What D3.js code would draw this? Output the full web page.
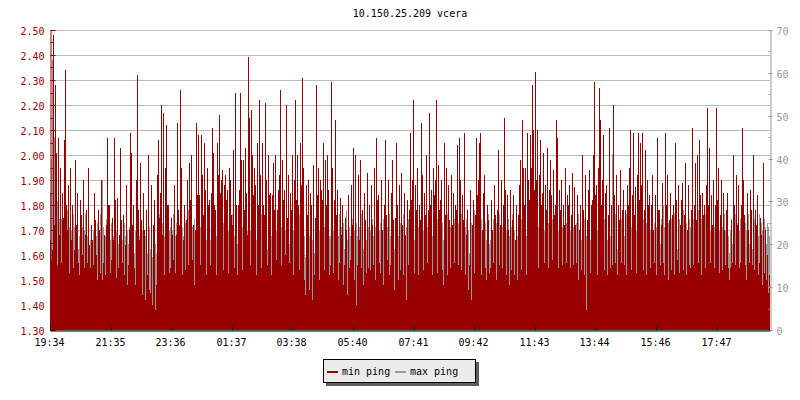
<!DOCTYPE html>
<html><head><meta charset="utf-8">
<script src="https://cdn.jsdelivr.net/npm/d3@7"></script>
<style>
body{margin:0;background:#fff}
svg{display:block}
text{font-family:"DejaVu Sans Mono",monospace;font-size:10px}
</style>
</head><body>
<svg id="chart" width="800" height="400"></svg>
<script>
const chartTitle = "10.150.25.209 vcera";
const stepMinutes = 2;            // one sample every 2 minutes, 24 h span
const spanMinutes = 1440;
const seriesNames = ["min ping", "max ping"];

// min ping (left axis), one value per 2-minute step
const minPing = [
1.66,1.58,1.62,2.48,1.72,2.28,2.01,1.56,2.07,1.68,1.95,1.57,1.85,1.75,2.06,2.34,1.80,1.70,1.88,1.53,1.95,1.66,1.80,1.55,1.62,1.98,1.72,1.85,1.57,1.52,1.82,1.76,1.60,1.90,1.55,1.68,1.78,1.57,1.95,1.64,
1.55,1.72,1.66,1.56,1.85,1.74,1.60,1.50,1.78,1.70,1.53,1.90,1.50,1.57,1.68,1.52,1.72,2.07,1.80,1.80,1.53,1.58,1.75,1.66,2.07,1.82,1.51,1.83,1.55,1.68,2.03,1.74,1.57,1.76,1.52,1.64,1.88,1.48,1.56,1.70,
2.09,2.01,1.72,1.80,1.55,1.48,1.90,2.32,1.78,1.66,1.97,1.74,1.44,1.85,1.70,1.42,1.78,1.52,2.00,1.46,1.45,1.88,1.40,1.72,1.82,1.38,1.48,1.92,2.06,1.75,1.85,2.20,1.68,2.17,1.52,1.95,2.12,1.80,1.80,1.53,
1.55,1.75,1.68,1.58,1.88,1.53,1.68,2.13,1.78,1.72,2.26,1.95,1.52,1.66,1.80,1.54,1.74,1.90,1.56,1.97,1.82,2.00,1.58,1.72,1.48,1.70,2.13,1.84,2.08,1.84,1.56,2.08,1.92,1.76,2.05,1.86,1.52,1.95,1.80,1.82,
1.56,1.85,2.11,2.01,1.80,1.78,1.52,2.05,1.92,2.16,1.85,1.90,1.94,1.54,1.88,1.92,1.82,1.86,1.53,1.95,1.90,1.76,1.72,2.02,1.55,2.25,1.80,1.52,1.80,1.86,2.25,1.98,1.54,1.98,1.78,2.03,1.85,1.68,2.39,2.15,
1.56,2.18,2.00,1.84,1.95,1.88,1.52,2.05,1.80,2.22,1.92,1.55,2.05,1.80,1.76,2.21,1.90,1.56,2.00,1.84,1.85,1.52,1.84,1.97,1.78,2.00,1.58,1.78,1.86,1.92,2.26,1.56,1.98,1.82,1.86,1.60,2.20,1.75,1.92,1.57,
1.85,1.78,2.00,1.52,1.90,2.22,1.82,2.00,1.80,1.54,2.05,1.88,2.31,1.95,1.50,1.44,1.88,1.76,1.90,1.46,1.85,1.80,1.42,1.96,1.52,1.75,2.28,1.84,1.95,1.50,1.90,1.86,1.82,2.05,1.54,1.98,1.80,2.00,1.86,1.52,
1.56,2.29,1.95,1.53,1.82,2.14,1.76,1.86,1.50,1.57,1.83,1.68,1.80,1.48,1.56,1.75,1.70,1.44,1.84,1.55,1.58,1.88,1.72,2.03,1.50,2.00,1.40,1.56,1.92,1.66,1.98,1.55,1.78,1.48,1.85,1.74,1.53,1.93,1.55,1.80,
1.54,1.88,1.72,1.56,1.95,1.50,2.07,1.82,1.84,1.57,1.53,1.90,1.70,1.48,1.80,2.06,1.76,1.58,1.90,1.52,1.56,1.85,1.98,1.74,1.46,1.75,2.05,1.80,1.50,1.88,1.54,1.93,1.72,1.52,1.85,1.68,1.42,1.82,1.56,1.78,
2.09,1.82,1.90,2.22,1.53,1.88,1.78,1.95,1.52,1.80,1.74,2.13,1.92,1.54,1.85,1.76,2.00,1.57,1.78,2.17,1.80,1.86,1.52,1.95,1.84,1.90,2.22,1.53,1.96,1.78,1.82,1.90,1.54,1.48,2.05,1.76,1.95,1.52,1.88,1.74,
1.55,1.92,1.72,1.85,1.57,1.80,1.78,2.04,1.56,2.07,1.90,1.54,1.84,1.74,2.09,1.52,1.68,1.78,1.46,1.56,1.86,1.42,1.72,1.82,1.53,1.76,2.07,1.84,1.90,2.05,2.09,1.52,1.70,1.85,1.92,1.55,1.50,1.80,1.74,1.53,
1.55,1.82,1.70,1.57,1.88,1.76,1.50,1.78,2.02,1.56,1.72,1.90,1.55,1.80,2.15,1.86,1.52,1.84,1.70,1.48,1.86,1.54,1.74,1.84,1.52,1.66,1.80,1.50,1.76,1.88,1.98,1.54,2.14,1.95,1.80,1.95,1.52,2.09,1.90,1.82,
2.08,1.95,2.28,2.10,1.86,2.33,1.90,2.10,1.55,1.92,2.06,1.80,1.85,2.01,1.57,1.88,1.78,2.03,1.55,1.86,1.98,1.84,1.58,1.94,1.76,1.80,2.14,2.07,1.55,1.86,1.78,1.90,1.56,1.80,1.72,1.95,1.57,1.84,1.80,1.88,
1.55,1.76,1.93,1.56,1.87,1.72,1.57,1.84,1.50,1.70,1.80,1.54,2.00,1.78,1.52,1.92,1.38,1.74,1.86,1.94,1.53,1.80,1.82,2.00,2.29,1.84,1.88,1.52,1.95,2.27,2.14,1.80,1.90,2.08,1.54,1.85,1.88,1.52,1.76,2.11,
1.55,1.80,1.56,2.20,1.84,1.57,1.92,1.52,1.80,1.74,1.94,1.57,1.78,1.86,1.56,1.78,1.52,1.88,1.80,1.95,2.10,1.54,1.84,2.09,1.76,1.87,1.53,1.92,2.09,1.82,2.05,1.88,2.09,1.54,1.78,2.02,1.52,1.90,1.80,1.84,
1.55,1.80,1.92,1.70,1.57,1.84,1.52,2.07,1.78,1.78,1.56,1.72,1.89,1.57,1.52,2.09,1.80,1.92,1.50,1.74,1.85,1.54,1.76,1.80,1.52,2.05,1.82,1.58,1.88,1.53,1.72,1.82,1.89,1.54,1.76,1.97,1.52,1.70,1.88,1.56,
1.55,1.78,2.11,1.56,1.80,1.97,1.74,2.00,1.57,2.06,1.84,1.52,1.85,1.76,1.80,1.55,1.88,2.19,1.80,2.03,1.57,1.84,1.72,1.90,1.55,1.80,2.19,1.82,1.95,1.53,1.76,1.90,1.54,1.85,1.70,1.56,1.78,1.85,1.55,1.50,
1.55,1.74,1.57,2.00,1.80,1.56,1.92,1.72,1.88,1.55,1.57,1.80,2.11,1.90,1.76,1.56,1.50,1.85,1.70,1.57,1.86,1.78,1.56,2.00,1.54,1.78,1.72,1.84,1.52,1.57,1.75,1.68,1.48,1.97,1.53,1.70,1.50,1.60,1.45,1.52
];

// max ping (right axis), one value per 2-minute step
const maxPing = [
32,40,63,50,45,38,30,30,27,26,28,26,29,24,27,26,25,28,22,24,26,23,21,27,24,20,23,25,19,22,26,21,24,18,23,27,20,22,25,19,
21,24,19,23,26,20,22,25,18,23,27,21,35,24,19,22,26,20,23,17,21,25,19,22,24,18,23,26,20,22,16,24,21,19,25,22,18,23,20,24,
22,26,20,24,18,23,21,25,19,22,27,17,23,20,16,22,25,18,21,24,19,23,17,21,26,20,18,24,22,27,20,23,25,19,22,26,21,24,18,23,
24,20,23,27,19,22,25,18,23,21,26,19,24,22,17,25,21,23,28,20,22,18,24,21,26,23,19,25,22,20,24,18,22,26,20,23,21,25,19,22,
21,25,19,23,26,20,22,17,24,21,28,19,23,25,18,22,26,20,23,17,21,24,27,19,22,18,25,20,23,26,19,22,24,18,21,25,20,23,19,22,
23,20,25,22,18,24,21,26,19,23,22,27,20,24,17,21,25,19,23,26,20,22,24,18,21,25,23,19,27,22,20,24,18,26,21,23,19,25,22,20,
21,25,19,23,26,20,22,18,24,27,21,23,19,25,22,17,24,20,26,22,19,23,21,25,18,22,24,27,20,23,19,25,22,18,24,21,26,20,23,22,
22,19,25,23,20,26,24,18,22,27,20,24,21,25,19,23,28,21,18,24,22,20,26,19,23,21,25,22,18,24,20,27,23,19,25,22,21,18,24,26,
23,20,26,22,19,24,21,27,18,23,25,20,22,26,19,23,21,24,18,27,22,20,25,23,19,26,21,24,22,18,25,20,23,27,21,19,24,22,26,20,
22,26,19,23,21,25,28,20,24,18,22,26,20,23,19,25,21,24,27,20,23,18,22,25,21,19,24,26,20,23,22,18,25,21,24,19,23,27,20,22,
24,20,23,19,26,22,21,18,25,20,23,27,19,22,20,24,26,21,23,18,22,25,20,23,28,21,19,24,22,20,23,26,19,22,18,25,21,23,27,20,
21,24,19,26,22,20,25,23,18,27,22,20,24,21,19,25,23,18,26,22,20,24,27,21,23,19,25,22,24,20,18,26,21,23,25,19,22,24,20,26,
22,19,25,21,27,20,23,18,24,22,26,21,19,24,23,20,28,22,25,19,23,21,26,18,24,22,20,25,23,19,26,21,24,28,22,20,25,23,18,24,
23,26,20,24,18,22,25,21,27,19,23,21,18,24,26,20,22,25,19,23,21,26,22,19,24,20,27,23,21,18,25,22,20,24,26,19,23,21,25,22,
22,26,41,24,20,27,22,19,25,23,21,26,18,24,22,20,27,23,19,25,21,24,22,18,26,20,23,25,19,22,24,21,18,26,23,20,25,22,19,24,
23,20,26,22,25,19,24,21,27,23,20,26,22,29,24,21,28,19,25,23,21,26,24,20,27,22,25,19,23,26,21,24,20,28,22,19,25,23,21,26,
24,21,19,26,23,20,25,22,28,21,24,26,20,23,19,27,22,21,25,20,23,26,21,19,24,28,22,25,20,23,26,21,24,19,27,23,21,25,22,18,
23,26,20,24,22,27,19,25,21,23,26,20,22,24,18,25,23,21,27,20,22,25,19,23,26,21,24,20,22,27,19,25,23,21,26,24,20,25,24,22
];

const leftTickValues = d3.range(25).map(i => +(1.30 + i * 0.05).toFixed(2)); // 1.30 .. 2.50
const rightTickValues = [0,5,10,15,20,25,30,35,40,45,50,55,60,65,70];
const timeLabels = ["19:34","21:35","23:36","01:37","03:38","05:40","07:41","09:42","11:43","13:44","15:46","17:47"];
const timeLabelStep = 121.2; // minutes between labels

const RED = "#990000", GRAY = "#999999", GRID = "#bbbbbb";
const L = 50, R = 770, T = 30, B = 330;

const svg = d3.select("#chart");
const x = d3.scaleLinear().domain([0, spanMinutes]).range([L, R]);
const yL = d3.scaleLinear().domain([1.30, 2.50]).range([B, T]);
const yR = d3.scaleLinear().domain([0, 70]).range([B, T]);

// title
svg.append("text").attr("x", 410).attr("y", 17).attr("text-anchor", "middle")
  .attr("fill", "#000").text(chartTitle);

// grid (every 0.10)
const majorLeft = leftTickValues.filter((d, i) => i % 2 === 0);
svg.append("g").selectAll("line").data(majorLeft).join("line")
  .attr("x1", L).attr("x2", R)
  .attr("y1", d => Math.round(yL(d)) + 0.5).attr("y2", d => Math.round(yL(d)) + 0.5)
  .attr("stroke", GRID).attr("stroke-width", 1);

// data: max ping first, min ping drawn over it
const gData = svg.append("g").attr("shape-rendering", "crispEdges");
gData.selectAll("rect.max").data(maxPing).join("rect").attr("class", "max")
  .attr("x", (d, i) => x(i * stepMinutes))
  .attr("width", (d, i) => x((i + 1) * stepMinutes) - x(i * stepMinutes))
  .attr("y", d => Math.round(yR(d))).attr("height", d => B - Math.round(yR(d)))
  .attr("fill", GRAY);
gData.selectAll("rect.min").data(minPing).join("rect").attr("class", "min")
  .attr("x", (d, i) => x(i * stepMinutes))
  .attr("width", (d, i) => x((i + 1) * stepMinutes) - x(i * stepMinutes))
  .attr("y", d => Math.round(yL(d))).attr("height", d => B - Math.round(yL(d)))
  .attr("fill", RED);

// left axis
const axL = svg.append("g").attr("transform", `translate(${L + 0.5},0)`)
  .call(d3.axisLeft(yL).tickValues(leftTickValues).tickSizeInner(-5).tickSizeOuter(0).tickPadding(6)
    .tickFormat(d => (Math.round(d * 100) % 10 === 0) ? d3.format(".2f")(d) : ""));
axL.select(".domain").attr("stroke", RED);
axL.selectAll(".tick line").attr("stroke", RED)
  .attr("x2", d => (Math.round(d * 100) % 10 === 0) ? 5 : 3);
axL.selectAll(".tick").attr("transform", d => `translate(0,${Math.round(yL(d)) + 0.5})`);
axL.selectAll(".tick text").attr("fill", RED).attr("dy", "0.45em")
  .style("font-family", '"DejaVu Sans Mono",monospace').style("font-size", "10px");

// right axis
const axR = svg.append("g").attr("transform", `translate(${R + 0.5},0)`)
  .call(d3.axisRight(yR).tickValues(rightTickValues).tickSizeInner(-2).tickSizeOuter(0).tickPadding(6)
    .tickFormat(d => d % 10 === 0 ? d : ""));
axR.select(".domain").attr("stroke", GRAY);
axR.selectAll(".tick").attr("transform", d => `translate(0,${Math.round(yR(d)) + 0.5})`);
axR.selectAll(".tick line").attr("stroke", GRAY)
  .attr("x1", d => d % 10 === 0 ? 2 : 0);
axR.selectAll(".tick text").attr("fill", GRAY).attr("dy", "0.45em")
  .style("font-family", '"DejaVu Sans Mono",monospace').style("font-size", "10px");

// bottom axis
const axB = svg.append("g").attr("transform", `translate(0,${B + 0.5})`)
  .call(d3.axisBottom(x).tickValues(timeLabels.map((t, i) => i * timeLabelStep))
    .tickSizeInner(-5).tickSizeOuter(0).tickPadding(8).tickFormat((d, i) => timeLabels[i]));
axB.select(".domain").attr("stroke", "#000");
axB.selectAll(".tick").attr("transform", d => `translate(${Math.round(x(d)) + 0.5},0)`);
axB.selectAll(".tick line").attr("stroke", "#000");
axB.selectAll(".tick text").attr("fill", "#000").attr("dx", "-1")
  .style("font-family", '"DejaVu Sans Mono",monospace').style("font-size", "10px");

// legend
const lg = svg.append("g").attr("shape-rendering", "crispEdges");
lg.append("rect").attr("x", 326).attr("y", 362).attr("width", 153).attr("height", 24).attr("fill", "#5e5e5e");
lg.append("rect").attr("x", 323.5).attr("y", 359.5).attr("width", 152).attr("height", 23)
  .attr("fill", "#ebebeb").attr("stroke", "#000");
const legendX = [327, 395];
const legendColors = [RED, GRAY];
seriesNames.forEach((name, i) => {
  lg.append("rect").attr("x", legendX[i]).attr("y", 371).attr("width", 11).attr("height", 2).attr("fill", legendColors[i]);
  lg.append("text").attr("x", legendX[i] + 15).attr("y", 375).attr("fill", "#000").text(name);
});
</script>
</body></html>
